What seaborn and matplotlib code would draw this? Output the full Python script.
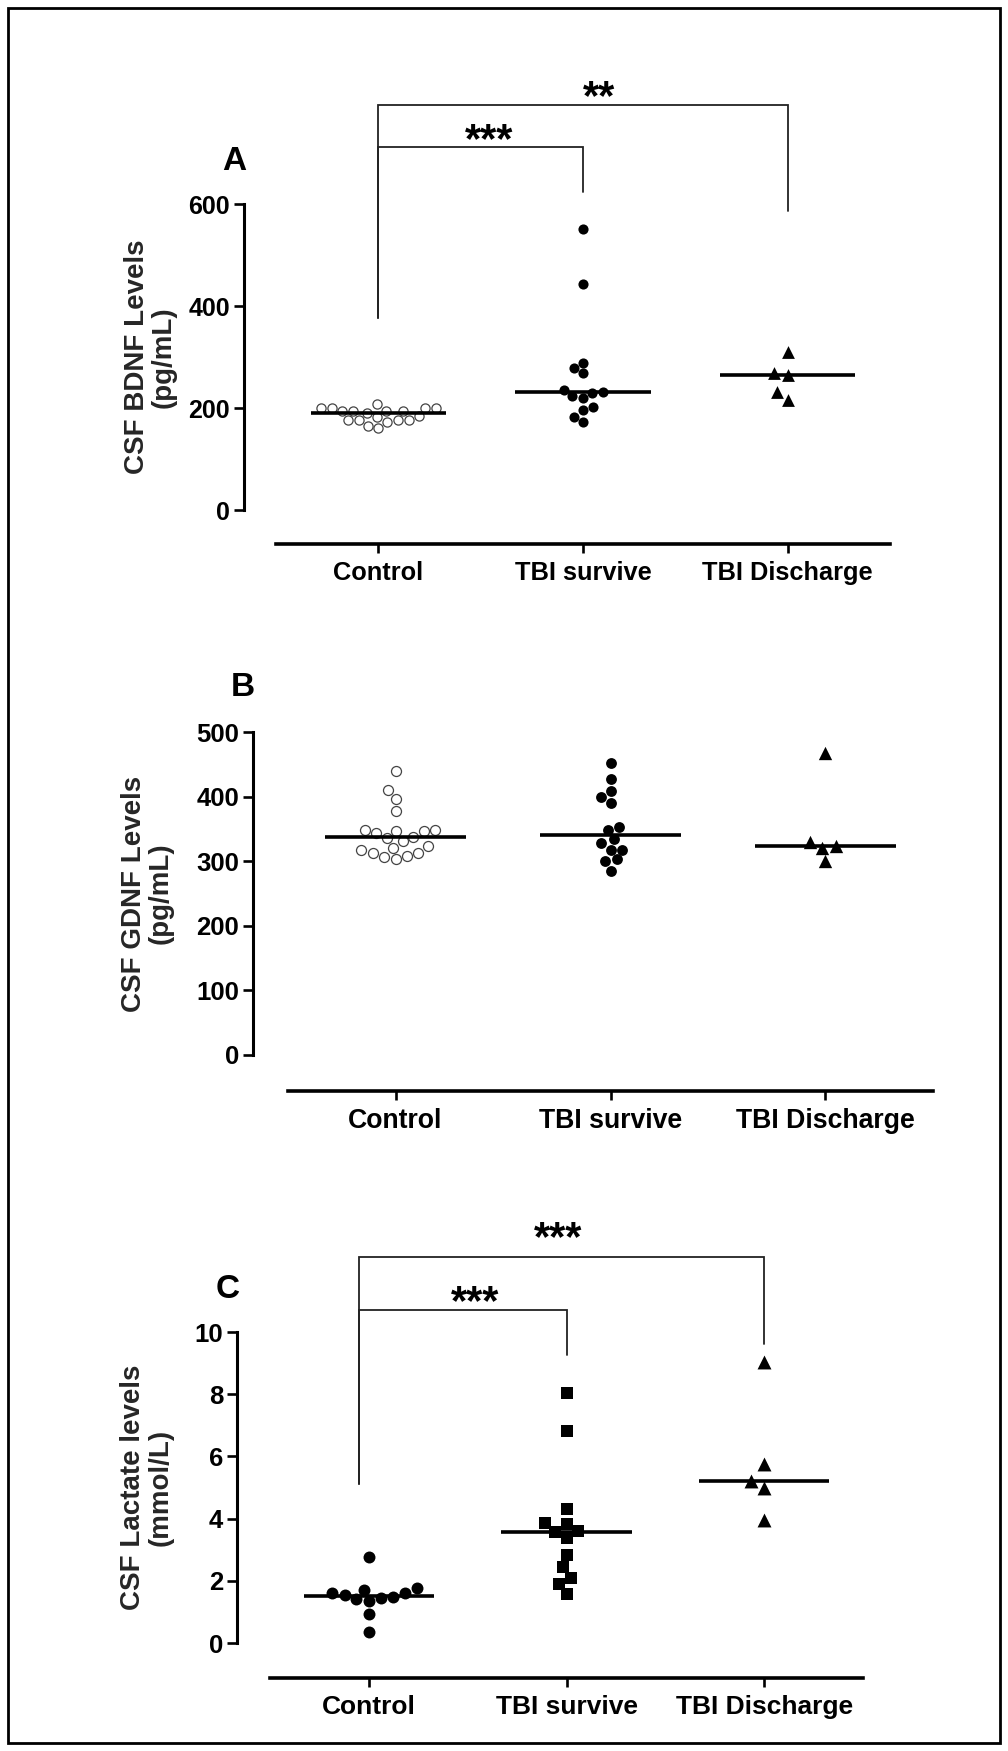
import numpy as np
import matplotlib
matplotlib.use("Agg")
import matplotlib.pyplot as plt
import seaborn as sns
from matplotlib.patches import Rectangle

# ---------------- data ----------------
categories = ["Control", "TBI survive", "TBI Discharge"]

bdnf_control = [200, 184, 200, 176, 176, 194, 173, 194, 160, 194, 165, 194,
                176, 200, 176, 200, 182, 191, 207]
bdnf_survive = [550, 443, 288, 278, 268, 235, 232, 230, 223, 220, 201, 197, 183, 173]
bdnf_discharge = [310, 268, 265, 232, 216]

gdnf_control = [439, 410, 396, 378, 349, 347, 344, 338, 331, 336, 347, 348,
                321, 312, 307, 304, 308, 312, 318, 323]
gdnf_survive = [452, 428, 408, 400, 390, 353, 348, 334, 328, 318, 318, 303, 300, 285]
gdnf_discharge = [468, 330, 323, 320, 300]

lac_control = [2.78, 1.77, 1.62, 1.45, 1.41, 1.35, 1.49, 1.54, 1.62, 1.71, 0.94, 0.34]
lac_survive = [8.03, 6.83, 4.32, 3.85, 3.83, 3.60, 3.57, 3.37, 2.83, 2.43, 2.09, 1.91, 1.58]
lac_discharge = [9.03, 5.75, 5.20, 5.00, 3.94]

bdnf_ticks = [0, 200, 400, 600]
gdnf_ticks = [0, 100, 200, 300, 400, 500]
lac_ticks = [0, 2, 4, 6, 8, 10]

# ---------------- style ----------------
sns.set_theme(style="ticks")
plt.rcParams['font.family'] = ['Liberation Sans', 'DejaVu Sans']
plt.rcParams['font.weight'] = 'bold'
plt.rcParams['axes.labelweight'] = 'bold'

W, H = 1008, 1751
fig = plt.figure(figsize=(W / 100, H / 100), dpi=100)
fig.patch.set_facecolor("white")


def px_axes(left, right, top, bottom):
    return fig.add_axes([left / W, (H - bottom) / H, (right - left) / W, (bottom - top) / H])


def draw_panel(ax, groups, styles, ylim, yticks, ylabel, label_x_px, left_px, width_px,
               out_left, out_bottom, tick_fs, cat_fs):
    for i, (vals, st) in enumerate(zip(groups, styles)):
        sns.swarmplot(x=[categories[i]] * len(vals), y=vals, order=categories, ax=ax,
                      marker=st["marker"], size=st["size"], color=st["face"],
                      edgecolor=st.get("edge", "black"), linewidth=st.get("lw", 0),
                      zorder=3)
        med = np.median(vals)
        ax.plot([i - 0.33, i + 0.33], [med, med], color="black", lw=2.6,
                solid_capstyle="butt", zorder=5)
    sns.despine(ax=ax)
    ax.spines["left"].set_position(("outward", out_left))
    ax.spines["bottom"].set_position(("outward", out_bottom))
    ax.spines["left"].set_linewidth(2.2)
    ax.spines["bottom"].set_linewidth(2.6)
    ax.spines["left"].set_color("black")
    ax.spines["bottom"].set_color("black")
    ax.set_xlim(-0.5, 2.5)
    ax.set_ylim(*ylim)
    ax.set_yticks(yticks)
    ax.set_yticklabels([str(t) for t in yticks])
    ax.set_xticks(range(len(categories)))
    ax.set_xticklabels(categories)
    ax.tick_params(axis="y", direction="out", length=7, width=1.9, pad=3,
                   colors="black", labelsize=tick_fs)
    ax.tick_params(axis="x", direction="out", length=6.5, width=1.9, pad=6,
                   colors="black", labelsize=cat_fs)
    for lab in ax.get_xticklabels() + ax.get_yticklabels():
        lab.set_fontweight("bold")
    ax.set_xlabel("")
    ax.set_ylabel(ylabel, fontsize=20, fontweight="bold", linespacing=1.05)
    ax.yaxis.label.set_verticalalignment("center")
    ax.yaxis.set_label_coords((label_x_px - left_px) / width_px, 0.5)
    ax.set_facecolor("none")
    ax.grid(False)


def bracket(ax, x0, x1, y, y_left, y_right, lw=1.3):
    ax.plot([x0, x0, x1, x1], [y_left, y, y, y_right], color="#222222", lw=lw,
            clip_on=False, zorder=2, solid_joinstyle="miter")


def stars(ax, x, y, s, fs=30):
    ax.annotate(s, xy=(x, y), xytext=(0, -0.30 * fs), textcoords="offset points",
                ha="center", va="center", fontsize=fs, fontweight="bold",
                color="black", annotation_clip=False)


open_c = dict(marker="o", size=6.6, face="white", edge="#444444", lw=0.9)

# ---------------- Panel A ----------------
axA = px_axes(276, 890, 204, 510)
draw_panel(axA, [bdnf_control, bdnf_survive, bdnf_discharge],
           [open_c, dict(marker="o", size=7.3, face="black"),
            dict(marker="^", size=9.2, face="black")],
           (0, 600), bdnf_ticks, "CSF BDNF Levels\n(pg/mL)", 150, 276, 614,
           23, 24.5, 18, 18.3)
bracket(axA, 0, 1, 712, 376, 623)
bracket(axA, 0, 2, 794, 376, 586)
stars(axA, 0.54, 747, "***")
stars(axA, 1.08, 833, "**")

# ---------------- Panel B ----------------
axB = px_axes(288, 933, 732, 1055)
draw_panel(axB, [gdnf_control, gdnf_survive, gdnf_discharge],
           [dict(open_c, size=7.2), dict(marker="o", size=7.8, face="black"),
            dict(marker="^", size=9.6, face="black")],
           (0, 500), gdnf_ticks, "CSF GDNF Levels\n(pg/mL)", 147, 288, 645,
           25.2, 25.9, 18.5, 19.2)

# ---------------- Panel C ----------------
axC = px_axes(270, 863, 1332, 1643)
draw_panel(axC, [lac_control, lac_survive, lac_discharge],
           [dict(marker="o", size=8.6, face="black"),
            dict(marker="s", size=9.2, face="black"),
            dict(marker="^", size=10, face="black")],
           (0, 10), lac_ticks, "CSF Lactate levels\n(mmol/L)", 147, 270, 593,
           23.8, 25.2, 18.5, 19)
bracket(axC, -0.05, 1, 10.71, 5.11, 9.27)
bracket(axC, -0.05, 2, 12.41, 5.11, 9.6)
stars(axC, 0.54, 11.33, "***")
stars(axC, 0.96, 13.4, "***")

# ---------------- panel letters ----------------
for letter, (lx, ly) in zip(["A", "B", "C"], [(234, 162), (243, 688), (228, 1289)]):
    fig.text(lx / W, 1 - ly / H, letter, ha="center", va="center",
             fontsize=24, fontweight="bold", color="black")

# ---------------- frame ----------------
fig.patches.append(Rectangle((8 / W, 8 / H), (W - 16) / W, (H - 16) / H,
                             transform=fig.transFigure, fill=False,
                             edgecolor="black", lw=2))

fig.savefig("out.png", dpi=100, facecolor="white")
